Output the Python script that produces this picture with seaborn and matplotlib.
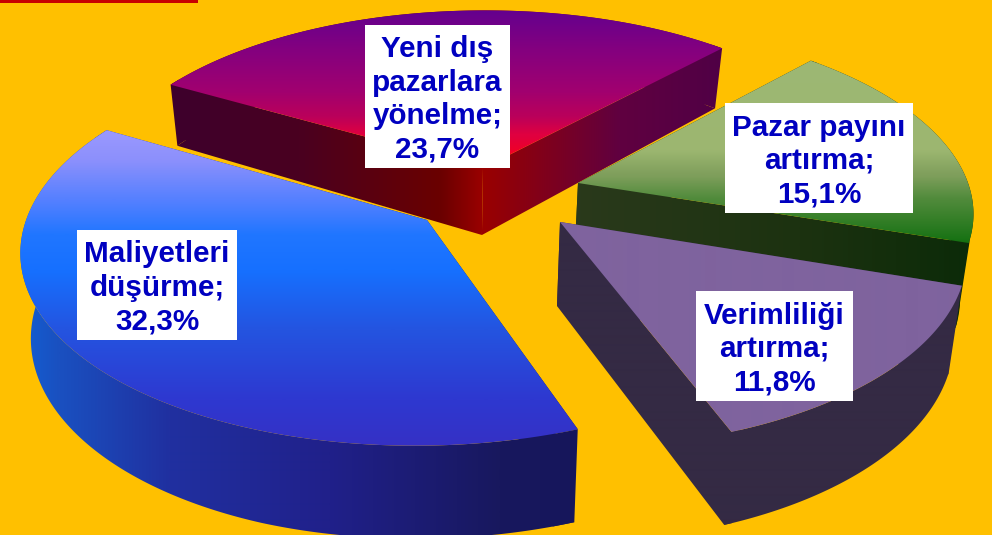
import numpy as np
import matplotlib
matplotlib.use("Agg")
import matplotlib.pyplot as plt
from matplotlib.colors import to_rgb
from matplotlib.patches import Polygon, Rectangle
import seaborn as sns

# ── Data ────────────────────────────────────────────────────────────────────
slice_names = ["Maliyetleri\ndüşürme;", "Yeni dış\npazarlara\nyönelme;", "Pazar payını\nartırma;", "Verimliliği\nartırma;"]
slice_values = [32.3, 23.7, 15.1, 11.8]
value_labels = ["32,3%", "23,7%", "15,1%", "11,8%"]

# ── Config ───────────────────────────────────────────────────────────────────
BG = "#FFC000"
TEXT_BLUE = "#0000C0"
START_ANGLE = -69.5
CENTER = (500, 200)
RX, RY, PERSP = 395, 188, 0.14
VANISH_X, CONVERGE = 440, 0.025
DEPTH_Y = [70, 168, 222, 430]
DEPTH_PX = [60, 67, 84, 93]

# exploded offset of each slice from the pie centre, pixels
OFFSETS = [(-73, 20), (-17, -32), (78, -17), (60, 22)]

# (position, colour) ramps: top faces run on y, side walls on x
TOP_RAMPS = [
    [(120, "#A09CFF"), (160, "#8C90FC"), (200, "#5580FF"), (235, "#2076FF"), (270, "#1670FF"),
     (330, "#2454E0"), (400, "#2E38D0"), (450, "#3630C4")],
    [(5, "#600090"), (50, "#84007F"), (90, "#A00070"), (115, "#B8005C"), (135, "#E00040"), (168, "#FF0010")],
    [(60, "#9DB874"), (150, "#9CB670"), (175, "#7F9F5C"), (200, "#4F8A3A"), (245, "#127010")],
    [(0, "#7F639E"), (535, "#7F639E")],
]
WALL_RAMPS = [
    [(0, "#0F66DC"), (60, "#1A50C0"), (170, "#2030A0"), (330, "#20208A"), (500, "#18185E"), (620, "#15155A")],
    [(140, "#3A0030"), (300, "#4A0020"), (440, "#6A0000"), (483, "#9A0000"), (520, "#8A0010"), (620, "#600040"),
     (760, "#4A0048")],
    [(560, "#2B3A1C"), (800, "#1C3210"), (992, "#0A2A08")],
    [(0, "#342A44"), (992, "#342A44")],
]

# white label boxes: left, top, right, bottom
LABEL_BOXES = [(77, 230, 237, 340), (365, 25, 510, 168), (725, 103, 913, 213), (696, 291, 853, 401)]
DRAW_ORDER = [1, 2, 0, 3]


# ── Helpers ───────────────────────────────────────────────────────────────────
def to_screen(x, y):
    """Top plane to pixels, nearer points drawn larger."""
    s = 1 / (1 - PERSP * y)
    return CENTER[0] + RX * x * s, CENTER[1] + RY * y * s


def from_offset(dx, dy):
    """Pixel offset from the centre back to plane coordinates."""
    y = dy / (RY + PERSP * dy)
    return dx * (1 - PERSP * y) / RX, y


def drop(px, py):
    """Same point on the bottom plane of the slice."""
    d = np.interp(py, DEPTH_Y, DEPTH_PX)
    return px + (VANISH_X - px) * CONVERGE, py + d


def ramp(stops):
    """One colour per pixel between the stops, blended with seaborn."""
    rows = []
    for (p0, c0), (p1, c1) in zip(stops[:-1], stops[1:]):
        rows.extend(sns.blend_palette([c0, c1], n_colors=max(int(p1 - p0), 2)))
    return np.array([to_rgb(c) for c in rows])


def gradient_poly(ax, pts, stops, vertical):
    lo, hi = stops[0][0], stops[-1][0]
    cols = ramp(stops)
    if vertical:
        im = ax.imshow(cols[:, None, :], extent=(0, 992, hi, lo), aspect="auto", origin="upper",
                       interpolation="bilinear", zorder=2)
    else:
        im = ax.imshow(cols[None, :, :], extent=(lo, hi, 535, 0), aspect="auto", origin="upper",
                       interpolation="bilinear", zorder=2)
    im.set_clip_path(Polygon(pts, closed=True, transform=ax.transData))


# ── Main ─────────────────────────────────────────────────────────────────────
sns.set_theme(style="white")
fig = plt.figure(figsize=(9.92, 5.35), dpi=100, facecolor=BG)
ax = fig.add_axes([0, 0, 1, 1], facecolor=BG)

# sweep clockwise from the start angle, sized by the values
edges = np.deg2rad(START_ANGLE - np.cumsum([0] + slice_values) / sum(slice_values) * 360)

for i in DRAW_ORDER:
    wx, wy = from_offset(*OFFSETS[i])
    th = np.linspace(edges[i], edges[i + 1], 240)
    tx, ty = to_screen(wx + np.cos(th), wy - np.sin(th))
    bx, by = drop(tx, ty)
    ax0, ay0 = to_screen(wx, wy)
    abx, aby = drop(ax0, ay0)

    rim = np.r_[np.c_[tx, ty], np.c_[bx, by][::-1]]
    # sides reach a few rim points round the corner so no seam shows there
    side_a = [(ax0, ay0), (tx[0], ty[0]), (tx[5], ty[5]), (bx[5], by[5]), (bx[0], by[0]), (abx, aby)]
    side_b = [(ax0, ay0), (tx[-1], ty[-1]), (tx[-6], ty[-6]), (bx[-6], by[-6]), (bx[-1], by[-1]), (abx, aby)]
    for wall in (rim, side_a, side_b):
        gradient_poly(ax, wall, WALL_RAMPS[i], vertical=False)

    top = np.r_[[(ax0, ay0)], np.c_[tx, ty]]
    gradient_poly(ax, top, TOP_RAMPS[i], vertical=True)

# bit of the red title bar peeking in at the top
ax.add_patch(Rectangle((0, 0), 198, 3, facecolor="#C80000", edgecolor="none", zorder=3))

for name, val, (l, t, r, b) in zip(slice_names, value_labels, LABEL_BOXES):
    ax.add_patch(Rectangle((l, t), r - l, b - t, facecolor="white", edgecolor="none", zorder=4))
    ax.text((l + r) / 2, (t + b) / 2 + 3, f"{name}\n{val}", ha="center", va="center", ma="center", color=TEXT_BLUE,
            family="Liberation Sans", fontweight="bold", fontsize=21.3, linespacing=1.25, zorder=5)

ax.set_xlim(0, 992)
ax.set_ylim(535, 0)
ax.axis("off")
fig.savefig("out.png", dpi=100, facecolor=BG)
